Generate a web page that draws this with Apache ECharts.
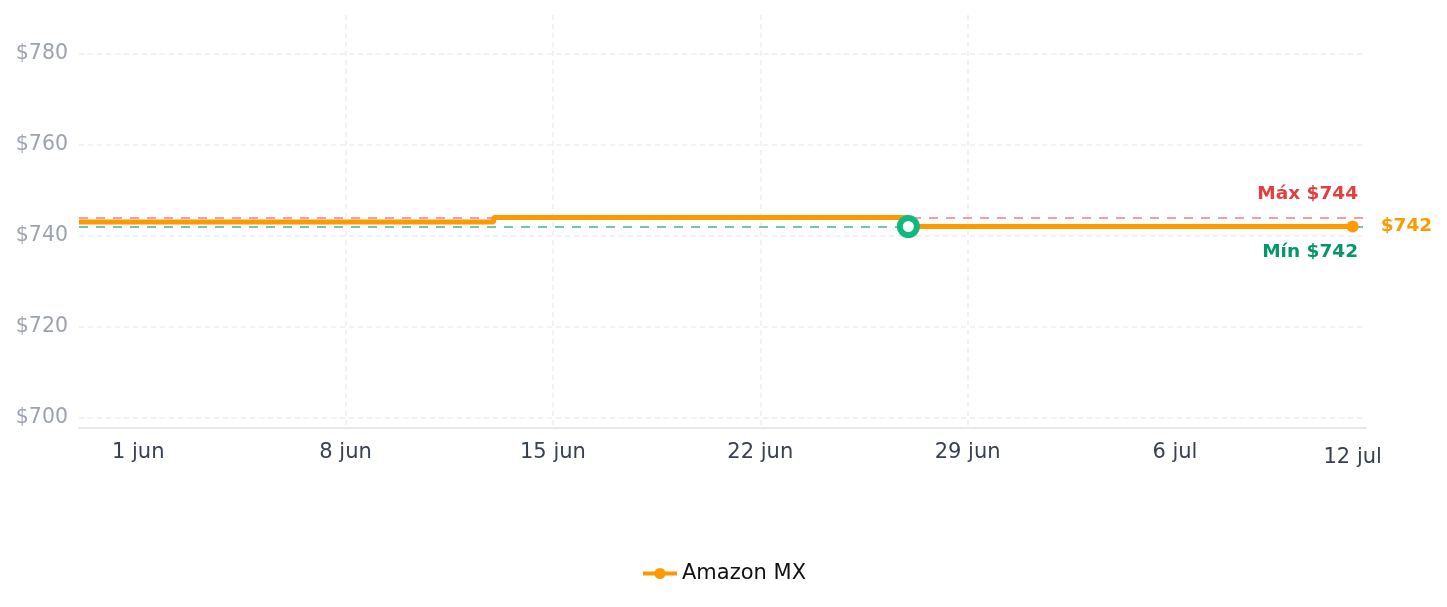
<!DOCTYPE html>
<html>
<head>
<meta charset="utf-8">
<script src="https://cdn.jsdelivr.net/npm/echarts@6/dist/echarts.min.js"></script>
<style>
  html, body { margin: 0; padding: 0; background: #fff; }
  #chart { width: 1447px; height: 607px; }
</style>
</head>
<body>
<div id="chart"></div>
<script>
// fechas de cambio de precio y precio vigente desde esa fecha
const fechas = [[2025, 4, 30], [2025, 5, 13], [2025, 5, 27], [2025, 6, 12]];
const precios = [743, 744, 742, 742];
// marcas del eje x (cada semana) + último día
const marcasSemana = [[2025, 5, 1], [2025, 5, 8], [2025, 5, 15], [2025, 5, 22], [2025, 5, 29], [2025, 6, 6]];
const marcaFinal = [2025, 6, 12];
const precioMax = 744;
const precioMin = 742;

const meses = ['ene', 'feb', 'mar', 'abr', 'may', 'jun', 'jul', 'ago', 'sep', 'oct', 'nov', 'dic'];
const ts = (f) => new Date(f[0], f[1], f[2]).getTime();
const DIA = 24 * 3600 * 1000;

const serie = fechas.map((f, i) => [ts(f), precios[i]]);
const ultimo = serie.length - 1;

const chart = echarts.init(document.getElementById('chart'));
chart.setOption({
  animation: false,
  textStyle: { fontFamily: 'DejaVu Sans' },
  grid: { left: 79, right: 81, top: 15, bottom: 179 },
  legend: {
    bottom: 18,
    left: 'center',
    itemWidth: 34,
    itemHeight: 14,
    itemGap: 10,
    lineStyle: { width: 4 },
    textStyle: { fontSize: 21, color: '#111' },
    data: ['Amazon MX']
  },
  xAxis: {
    type: 'value',
    min: ts(fechas[0]),
    max: ts(marcaFinal) + 0.45 * DIA,
    axisLine: { lineStyle: { color: '#e5e7eb', width: 2 } },
    axisTick: { show: false, customValues: marcasSemana.map(ts) },
    axisLabel: {
      customValues: marcasSemana.map(ts).concat([ts(marcaFinal)]),
      fontSize: 21,
      color: '#374151',
      margin: 14,
      formatter: (v) => {
        const d = new Date(v);
        const txt = d.getDate() + ' ' + meses[d.getMonth()];
        return v === ts(marcaFinal) ? '{f|' + txt + '}' : txt;
      },
      rich: { f: { fontSize: 21, color: '#374151', padding: [5, 0, 0, 0] } }
    },
    splitLine: { show: true, showMinLine: false, showMaxLine: false, lineStyle: { color: '#eeeeee', width: 1.5, type: [5, 4] } }
  },
  yAxis: {
    type: 'value',
    min: 697.7,
    max: 788.5,
    minInterval: 20,
    maxInterval: 20,
    axisLine: { show: false },
    axisTick: { show: false },
    axisLabel: {
      fontSize: 20.5,
      color: '#9ca3af',
      margin: 11,
      formatter: (v) => (Math.abs(v % 20) < 1e-6 ? '$' + v : '')
    },
    splitLine: { show: true, showMinLine: false, showMaxLine: false, lineStyle: { color: '#eeeeee', width: 1.5, type: [5, 4] } }
  },
  series: [{
    name: 'Amazon MX',
    type: 'line',
    step: 'end',
    z: 3,
    data: serie,
    color: '#ff9900',
    lineStyle: { width: 5, color: '#ff9900' },
    symbol: 'circle',
    showAllSymbol: true,
    symbolSize: (v, p) => (p.dataIndex === ultimo ? 12 : 0),
    itemStyle: { color: '#ff9900' },
    endLabel: {
      show: true,
      formatter: '$' + precios[ultimo],
      color: '#ff9900',
      fontWeight: 'bold',
      fontSize: 18.5,
      distance: 28
    },
    markPoint: {
      z: 5,
      symbol: 'circle',
      symbolSize: 17,
      itemStyle: { color: '#ffffff', borderColor: '#10b981', borderWidth: 6 },
      label: { show: false },
      data: [{ type: 'min' }]
    },
    markLine: {
      z: 1,
      symbol: 'none',
      silent: true,
      data: [
        {
          yAxis: precioMax,
          lineStyle: { color: 'rgba(239,68,68,0.7)', width: 1.5, type: [9, 8] },
          label: { position: 'insideEndTop', formatter: 'Máx $' + precioMax, color: '#e53e3e', fontWeight: 'bold', fontSize: 18.5, distance: [8, 14] }
        },
        {
          yAxis: precioMin,
          lineStyle: { color: 'rgba(16,150,100,0.75)', width: 1.5, type: [9, 8] },
          label: { position: 'insideEndBottom', formatter: 'Mín $' + precioMin, color: '#059669', fontWeight: 'bold', fontSize: 18.5, distance: [8, 16] }
        }
      ]
    }
  }]
});
</script>
</body>
</html>
